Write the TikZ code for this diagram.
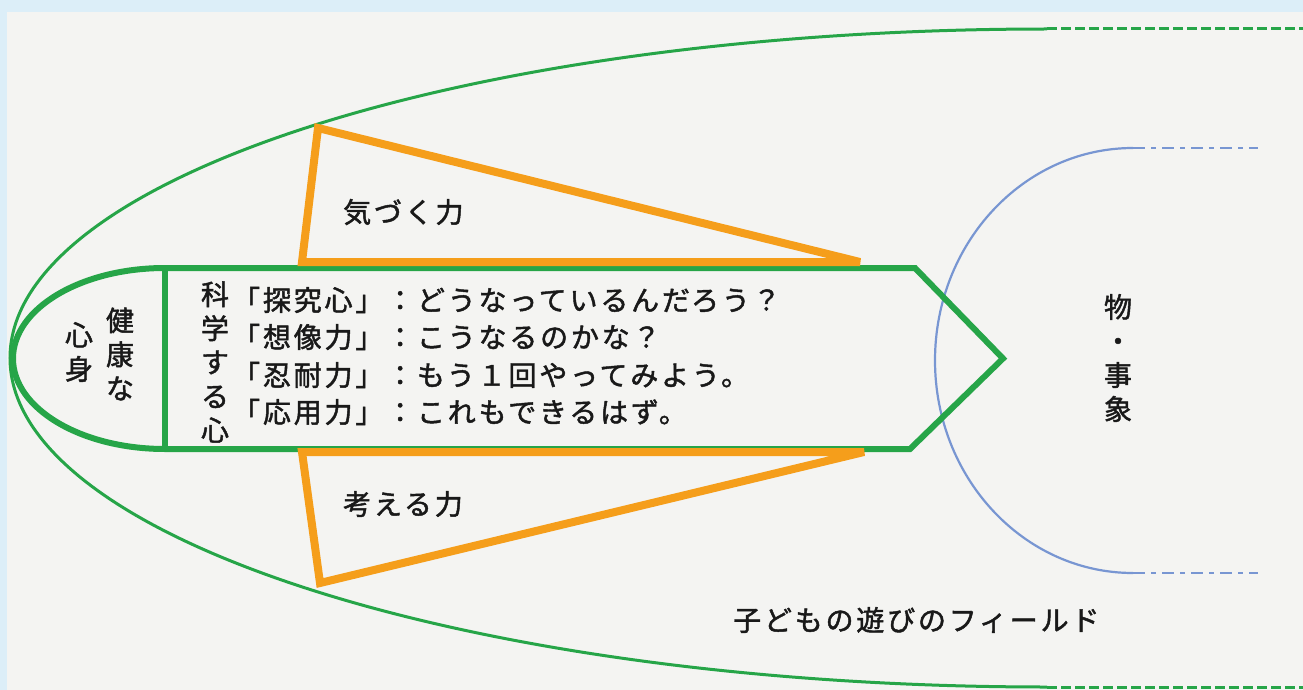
\documentclass[tikz,border=0pt]{standalone}
\usepackage{fontspec}
\newfontfamily\jp{Noto Sans CJK JP}[LetterSpace=10,FakeBold=1.6]
\definecolor{fgreen}{RGB}{38,165,72}
\definecolor{forange}{RGB}{245,158,27}
\definecolor{fblue}{RGB}{120,150,210}
\definecolor{band}{RGB}{220,238,248}
\definecolor{paper}{RGB}{244,244,242}
\definecolor{ink}{RGB}{25,25,25}
\begin{document}
\begin{tikzpicture}[x=1pt,y=-1pt,
  fieldline/.style={draw=fgreen, line width=3pt},
  fielddash/.style={draw=fgreen, line width=3pt, dash pattern=on 10pt off 4pt},
  objline/.style={draw=fblue, line width=2.2pt},
  objdash/.style={draw=fblue, line width=2.2pt, dash pattern=on 12pt off 6pt on 5pt off 6pt},
  innerline/.style={draw=fgreen, line width=6pt, line join=miter},
  tri/.style={draw=forange, line width=8pt, line join=miter, miter limit=2.5},
  txt/.style={text=ink, inner sep=0pt, font=\jp\fontsize{28}{34}\selectfont},
  vtxt/.style={txt, align=center}
]
\useasboundingbox (0,0) rectangle (1303,690);
\fill[band] (0,0) rectangle (1303,690);
\fill[paper] (7,12) rectangle (1303,690);

% field of children's play
\coordinate (ftop) at (1047,29);
\coordinate (fbot) at (1047,687);
\coordinate (ftopend) at (1303,29);
\coordinate (fbotend) at (1303,687);
\draw[fieldline] (ftop) arc[start angle=270,end angle=90,x radius=1037,y radius=329];
\draw[fielddash] (ftop) -- (ftopend);
\draw[fielddash] (fbot) -- (fbotend);

% objects / phenomena
\coordinate (otop) at (1133,148);
\coordinate (obot) at (1133,573);
\coordinate (otopend) at (1258,148);
\coordinate (obotend) at (1258,573);
\draw[objline] (otop) arc[start angle=270,end angle=90,x radius=198,y radius=212.5];
\draw[objdash] (otop) -- (otopend);
\draw[objdash] (obot) -- (obotend);

% inner arrow shape
\draw[innerline] (165,268) -- (915,268) -- (1003,358.5) -- (910,449) -- (165,449)
  arc[start angle=90,end angle=270,x radius=152,y radius=90.5] -- cycle;
\draw[innerline] (165,268) -- (165,449);

% triangles
\draw[tri] (318,128) -- (302,262) -- (860,262) -- cycle;
\draw[tri] (302,452) -- (320,583) -- (864,452) -- cycle;

% texts
\node[txt, anchor=west] (kizuku) at (343,212) {気づく力};
\node[txt, anchor=west] (kangaeru) at (343,504) {考える力};
\node[vtxt] (kenkou) at (120,354) {健\\康\\な};
\node[vtxt] (shinshin) at (79,352) {心\\身};
\node[vtxt] (kagaku) at (215,362) {科\\学\\す\\る\\心};
\node[txt, anchor=west] (r1) at (232,300) {「探究心」：どうなっているんだろう？};
\node[txt, anchor=west] (r2) at (232,337) {「想像力」：こうなるのかな？};
\node[txt, anchor=west] (r3) at (232,375) {「忍耐力」：もう１回やってみよう。};
\node[txt, anchor=west] (r4) at (232,412) {「応用力」：これもできるはず。};
\node[vtxt] (mono) at (1118,358) {物\\・\\事\\象};
\node[txt, anchor=west] (field) at (733,620) {子どもの遊びのフィールド};
\end{tikzpicture}
\end{document}
